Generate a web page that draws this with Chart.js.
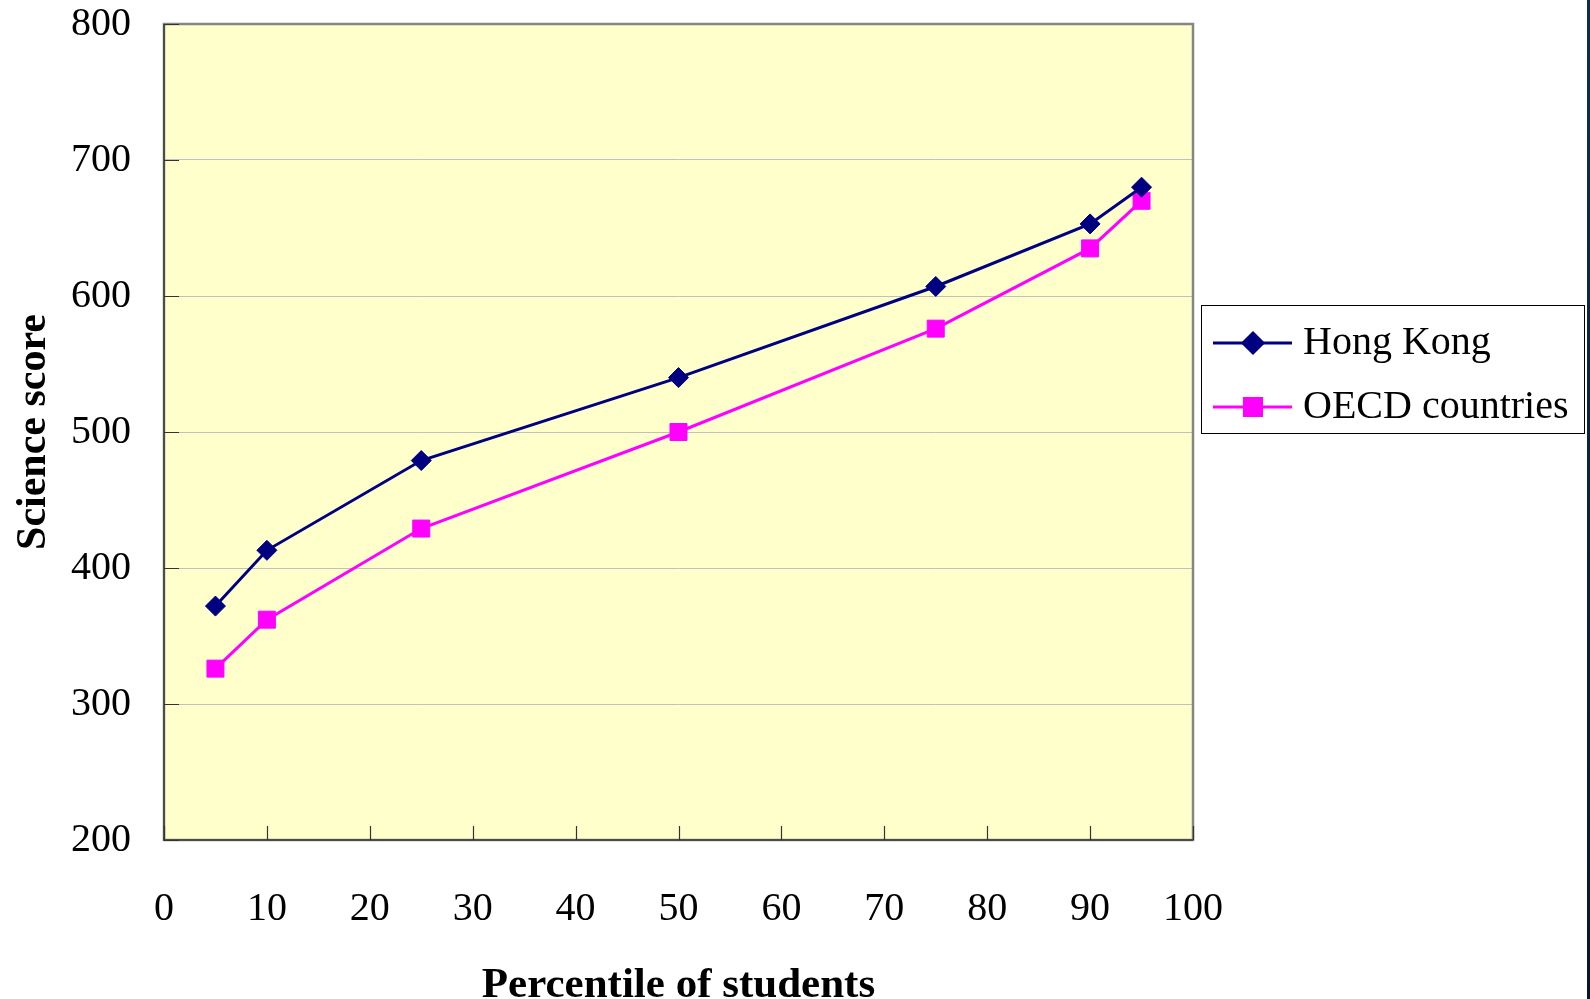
<!DOCTYPE html>
<html>
<head>
<meta charset="utf-8">
<title>Science score by percentile</title>
<script src="https://cdn.jsdelivr.net/npm/chart.js@4.4.1/dist/chart.umd.min.js"></script>
<style>
  html, body { margin: 0; padding: 0; background: #ffffff; }
  #wrap { position: relative; width: 1590px; height: 999px; overflow: hidden; }
  #edge { position: absolute; right: 0; top: 0; width: 3px; height: 999px;
          background: linear-gradient(#0c2f50, #061828); }
</style>
</head>
<body>
<div id="wrap">
  <canvas id="chart" width="1590" height="999"></canvas>
  <div id="edge"></div>
</div>
<script>
// Percentile positions and science scores for each group
const percentiles = [5, 10, 25, 50, 75, 90, 95];
const hongKong = [372, 413, 479, 540, 607, 653, 680];
const oecd = [326, 362, 429, 500, 576, 635, 670];

const seriesNames = ['Hong Kong', 'OECD countries'];
const xTitle = 'Percentile of students';
const yTitle = 'Science score';

const SERIF = '"Liberation Serif", "Times New Roman", serif';

const toPoints = (vals) => percentiles.map((p, i) => ({ x: p, y: vals[i] }));

// Yellow plot background, frame and inward tick marks
const frame = {
  id: 'frame',
  beforeDraw(chart) {
    const { ctx, chartArea: a } = chart;
    ctx.save();
    ctx.fillStyle = '#ffffcc';
    ctx.fillRect(a.left, a.top, a.right - a.left, a.bottom - a.top);
    ctx.restore();
  },
  beforeDatasetsDraw(chart) {
    const { ctx, chartArea: a, scales } = chart;
    ctx.save();
    ctx.strokeStyle = '#858585';
    ctx.lineWidth = 2.5;
    ctx.strokeRect(a.left, a.top, a.right - a.left, a.bottom - a.top);
    ctx.strokeStyle = '#3a3a3a';
    ctx.lineWidth = 1.5;
    ctx.beginPath();
    ctx.moveTo(a.left, a.top);
    ctx.lineTo(a.left, a.bottom);
    ctx.lineTo(a.right, a.bottom);
    ctx.stroke();
    // tick marks pointing into the plot
    ctx.strokeStyle = '#333333';
    ctx.lineWidth = 1.2;
    ctx.beginPath();
    scales.x.ticks.forEach(t => {
      const px = Math.round(scales.x.getPixelForValue(t.value)) + 0.5;
      ctx.moveTo(px, a.bottom);
      ctx.lineTo(px, a.bottom - 14);
    });
    scales.y.ticks.forEach(t => {
      const py = Math.round(scales.y.getPixelForValue(t.value)) + 0.5;
      ctx.moveTo(a.left, py);
      ctx.lineTo(a.left + 15, py);
    });
    ctx.stroke();
    ctx.restore();
  }
};

// Boxed legend to the right of the plot
const boxLegend = {
  id: 'boxLegend',
  afterDraw(chart) {
    const { ctx } = chart;
    const box = { x: 1201.5, y: 305.5, w: 383, h: 128 };
    ctx.save();
    ctx.fillStyle = '#ffffff';
    ctx.fillRect(box.x, box.y, box.w, box.h);
    ctx.strokeStyle = '#000000';
    ctx.lineWidth = 1;
    ctx.strokeRect(box.x, box.y, box.w, box.h);
    chart.data.datasets.forEach((ds, i) => {
      const cy = 343 + i * 64;
      ctx.strokeStyle = ds.borderColor;
      ctx.lineWidth = ds.borderWidth;
      ctx.beginPath();
      ctx.moveTo(1213, cy);
      ctx.lineTo(1292, cy);
      ctx.stroke();
      Chart.helpers.drawPoint(ctx, {
        pointStyle: ds.pointStyle,
        radius: ds.pointRadius,
        borderWidth: 1
      }, 1253, cy);
      ctx.fillStyle = ds.pointBackgroundColor;
      ctx.fill();
      ctx.fillStyle = '#000000';
      ctx.font = '40px ' + SERIF;
      ctx.textBaseline = 'middle';
      ctx.textAlign = 'left';
      ctx.fillText(ds.label, 1303, cy);
    });
    ctx.restore();
  }
};

new Chart(document.getElementById('chart'), {
  type: 'line',
  data: {
    datasets: [
      {
        label: seriesNames[0],
        data: toPoints(hongKong),
        borderColor: '#000080',
        backgroundColor: '#000080',
        pointBackgroundColor: '#000080',
        pointBorderColor: '#000080',
        borderWidth: 3,
        pointStyle: 'rectRot',
        pointRadius: 10,
        pointBorderWidth: 1,
        tension: 0,
        fill: false
      },
      {
        label: seriesNames[1],
        data: toPoints(oecd),
        borderColor: '#ff00ff',
        backgroundColor: '#ff00ff',
        pointBackgroundColor: '#ff00ff',
        pointBorderColor: '#ff00ff',
        borderWidth: 3,
        pointStyle: 'rect',
        pointRadius: 12,
        pointBorderWidth: 1,
        tension: 0,
        fill: false
      }
    ]
  },
  options: {
    responsive: false,
    animation: false,
    events: [],
    layout: { padding: { left: 0, right: 397, top: 24, bottom: 0 } },
    plugins: {
      legend: { display: false },
      tooltip: { enabled: false }
    },
    scales: {
      x: {
        type: 'linear',
        min: 0,
        max: 100,
        ticks: {
          stepSize: 10,
          padding: 41,
          color: '#000000',
          font: { family: SERIF, size: 40, lineHeight: 1 },
          maxRotation: 0
        },
        grid: { display: false },
        border: { display: false },
        title: {
          display: true,
          text: xTitle,
          color: '#000000',
          font: { family: SERIF, size: 43, weight: 'bold', lineHeight: 0.6 },
          padding: { top: 0, bottom: 0 }
        },
        afterFit(scale) {
          scale.height = 159;
          scale.paddingLeft = 0;
          scale.paddingRight = 0;
        }
      },
      y: {
        type: 'linear',
        min: 200,
        max: 800,
        ticks: {
          stepSize: 100,
          padding: 33,
          color: '#000000',
          font: { family: SERIF, size: 40, lineHeight: 1 }
        },
        grid: {
          color: '#c0c0c0',
          lineWidth: 1,
          drawTicks: false
        },
        border: { display: false },
        title: {
          display: true,
          text: yTitle,
          color: '#000000',
          font: { family: SERIF, size: 42, weight: 'bold', lineHeight: 1.2 },
          padding: { top: 9, bottom: 0 }
        },
        afterFit(scale) {
          scale.width = 164;
          scale.paddingTop = 0;
          scale.paddingBottom = 0;
        }
      }
    }
  },
  plugins: [frame, boxLegend]
});
</script>
</body>
</html>
